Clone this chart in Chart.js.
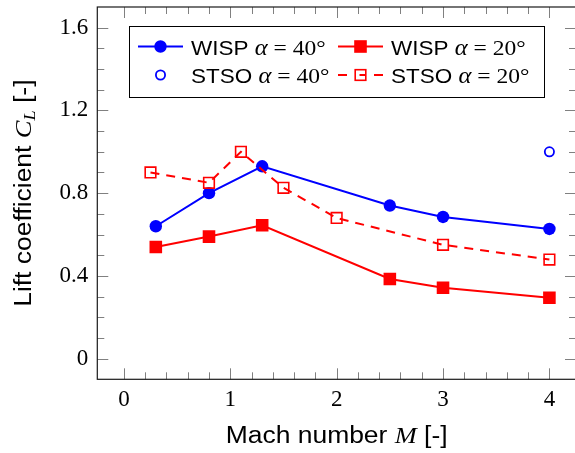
<!DOCTYPE html>
<html lang="en">
<head>
    <meta charset="UTF-8">
    <title>Lift coefficient vs Mach number</title>
    <script src="https://cdn.jsdelivr.net/npm/chart.js"></script>
    <style>
        html, body { margin: 0; padding: 0; background: #fff; overflow: hidden; }
        #wrap { width: 578px; height: 453px; }
    </style>
</head>
<body>
    <div id="wrap">
        <canvas id="liftChart" width="578" height="453"></canvas>
    </div>
    <script>
        // Data
        const machWisp = [0.3, 0.8, 1.3, 2.5, 3.0, 4.0];
        const clWisp40 = [0.64, 0.80, 0.93, 0.74, 0.685, 0.627];
        const clWisp20 = [0.54, 0.59, 0.645, 0.385, 0.343, 0.294];
        const machStso40 = [4.0];
        const clStso40 = [1.0];
        const machStso20 = [0.25, 0.8, 1.1, 1.5, 2.0, 3.0, 4.0];
        const clStso20 = [0.90, 0.85, 1.0, 0.826, 0.68, 0.55, 0.479];

        const xTicks = [0, 1, 2, 3, 4];
        const yTicks = [0, 0.4, 0.8, 1.2, 1.6];
        const seriesNames = ['WISP', 'WISP', 'STSO', 'STSO'];
        const seriesAlpha = ['40', '20', '40', '20'];

        const BLUE = '#0000ff';
        const RED = '#ff0000';
        const SANS = "'Liberation Sans'";
        const SERIF = "'Liberation Serif'";
        const HS = 1.15; // horizontal stretch for axis titles

        function pts(xs, ys) {
            return xs.map((v, i) => ({ x: v, y: ys[i] }));
        }

        // draw a run of text pieces with different fonts
        function drawRich(ctx, parts, x, y, align, hs) {
            hs = hs || 1;
            ctx.save();
            let w = 0;
            parts.forEach(p => {
                ctx.font = p.f;
                w += ctx.measureText(p.t).width * hs;
            });
            const cx = align === 'center' ? x - w / 2 : x;
            ctx.translate(cx, y);
            ctx.scale(hs, 1);
            let px = 0;
            parts.forEach(p => {
                ctx.font = p.f;
                ctx.fillText(p.t, px, p.dy || 0);
                px += ctx.measureText(p.t).width;
            });
            ctx.restore();
        }

        function mathLabel(name, alpha) {
            return [
                { t: name + ' ', f: `21px ${SANS}` },
                { t: 'α', f: `italic 23px ${SERIF}` },
                { t: ' = ' + alpha + '°', f: `22px ${SERIF}` }
            ];
        }

        // frame, inward ticks and axis titles like pgfplots
        const framePlugin = {
            id: 'frame',
            beforeDatasetsDraw(chart) {
                const { ctx, chartArea: a, scales } = chart;
                const sx = scales.x, sy = scales.y;
                ctx.save();
                ctx.strokeStyle = '#808080';
                ctx.lineWidth = 1;
                ctx.beginPath();
                for (let k = 0; k <= 20; k++) {
                    const len = k % 5 === 0 ? 11 : 7;
                    const px = Math.round(sx.getPixelForValue(k * 0.2)) + 0.5;
                    ctx.moveTo(px, a.bottom); ctx.lineTo(px, a.bottom - len);
                    ctx.moveTo(px, a.top); ctx.lineTo(px, a.top + len);
                }
                for (let k = 0; k <= 16; k++) {
                    const len = k % 4 === 0 ? 11 : 7;
                    const py = Math.round(sy.getPixelForValue(k * 0.1)) + 0.5;
                    ctx.moveTo(a.left, py); ctx.lineTo(a.left + len, py);
                    ctx.moveTo(a.right, py); ctx.lineTo(a.right - len, py);
                }
                ctx.stroke();
                ctx.strokeStyle = '#1a1a1a';
                ctx.lineWidth = 1.2;
                ctx.strokeRect(a.left, a.top, a.right - a.left, a.bottom - a.top);

                ctx.fillStyle = '#000';
                ctx.textBaseline = 'alphabetic';
                const cx = (a.left + a.right) / 2;
                drawRich(ctx, [
                    { t: 'Mach number ', f: `23px ${SANS}` },
                    { t: 'M', f: `italic 23px ${SERIF}` },
                    { t: ' [-]', f: `23px ${SANS}` }
                ], cx, 443, 'center', HS);

                ctx.save();
                ctx.translate(31, (a.top + a.bottom) / 2);
                ctx.rotate(-Math.PI / 2);
                drawRich(ctx, [
                    { t: 'Lift coefficient ', f: `23px ${SANS}` },
                    { t: 'C', f: `italic 23px ${SERIF}` },
                    { t: 'L', f: `italic 16px ${SERIF}`, dy: 4 },
                    { t: ' [-]', f: `23px ${SANS}` }
                ], 0, 0, 'center', HS);
                ctx.restore();
                ctx.restore();
            }
        };

        // 2x2 legend box
        const legendPlugin = {
            id: 'boxLegend',
            afterDraw(chart) {
                const ctx = chart.ctx;
                const box = { l: 129.5, t: 26.5, r: 544.5, b: 97.5 };
                ctx.save();
                ctx.fillStyle = '#fff';
                ctx.fillRect(box.l, box.t, box.r - box.l, box.b - box.t);
                ctx.strokeStyle = '#000';
                ctx.lineWidth = 1;
                ctx.strokeRect(box.l, box.t, box.r - box.l, box.b - box.t);

                const rows = [46.5, 75];
                const cols = [138, 338];
                const items = [
                    { c: BLUE, line: true, dash: false, mark: 'circle', fill: true },
                    { c: RED, line: true, dash: false, mark: 'rect', fill: true },
                    { c: BLUE, line: false, dash: false, mark: 'circle', fill: false },
                    { c: RED, line: true, dash: true, mark: 'rect', fill: false }
                ];
                items.forEach((it, i) => {
                    const x0 = cols[i % 2], y0 = rows[Math.floor(i / 2)];
                    const mx = x0 + 22.5;
                    ctx.strokeStyle = it.c;
                    ctx.fillStyle = it.c;
                    if (it.line) {
                        ctx.lineWidth = 2;
                        ctx.beginPath();
                        if (it.dash) {
                            ctx.moveTo(x0, y0); ctx.lineTo(x0 + 9, y0);
                            ctx.moveTo(x0 + 36, y0); ctx.lineTo(x0 + 45, y0);
                        } else {
                            ctx.moveTo(x0, y0); ctx.lineTo(x0 + 45, y0);
                        }
                        ctx.stroke();
                    }
                    ctx.beginPath();
                    if (it.mark === 'circle') {
                        if (it.fill) {
                            ctx.arc(mx, y0, 6.2, 0, Math.PI * 2);
                            ctx.fill();
                        } else {
                            ctx.lineWidth = 1.8;
                            ctx.arc(mx, y0, 4.6, 0, Math.PI * 2);
                            ctx.stroke();
                        }
                    } else {
                        if (it.fill) {
                            ctx.fillRect(mx - 6.3, y0 - 6.3, 12.6, 12.6);
                        } else {
                            ctx.lineWidth = 1.6;
                            ctx.strokeRect(mx - 5.3, y0 - 5.3, 10.6, 10.6);
                            ctx.lineWidth = 2;
                            ctx.beginPath();
                            ctx.moveTo(mx - 1, y0); ctx.lineTo(mx + 5.3, y0);
                            ctx.stroke();
                        }
                    }
                    ctx.fillStyle = '#000';
                    drawRich(ctx, mathLabel(seriesNames[i], seriesAlpha[i]), x0 + 53, y0 + 8, 'left', 1.07);
                });
                ctx.restore();
            }
        };

        const ctx = document.getElementById('liftChart').getContext('2d');
        new Chart(ctx, {
            type: 'scatter',
            data: {
                datasets: [
                    {
                        label: 'WISP a=40',
                        data: pts(machWisp, clWisp40),
                        showLine: true,
                        borderColor: BLUE,
                        backgroundColor: BLUE,
                        borderWidth: 2,
                        pointStyle: 'circle',
                        pointRadius: 6.2,
                        pointBorderWidth: 0,
                        order: 4
                    },
                    {
                        label: 'WISP a=20',
                        data: pts(machWisp, clWisp20),
                        showLine: true,
                        borderColor: RED,
                        backgroundColor: RED,
                        borderWidth: 2,
                        pointStyle: 'rect',
                        pointRadius: 8.9,
                        pointBorderWidth: 0,
                        order: 3
                    },
                    {
                        label: 'STSO a=40',
                        data: pts(machStso40, clStso40),
                        showLine: false,
                        borderColor: BLUE,
                        backgroundColor: 'rgba(0,0,0,0)',
                        pointStyle: 'circle',
                        pointRadius: 4.6,
                        pointBorderWidth: 1.8,
                        order: 2
                    },
                    {
                        label: 'STSO a=20',
                        data: pts(machStso20, clStso20),
                        showLine: true,
                        borderColor: RED,
                        backgroundColor: 'rgba(0,0,0,0)',
                        borderWidth: 2,
                        borderDash: [9, 7],
                        pointStyle: 'rect',
                        pointRadius: 7.5,
                        pointBorderWidth: 1.6,
                        order: 1
                    }
                ]
            },
            options: {
                responsive: false,
                animation: false,
                layout: { autoPadding: false, padding: { left: 0, right: 2, top: 7, bottom: 0 } },
                plugins: {
                    legend: { display: false },
                    tooltip: { enabled: false }
                },
                scales: {
                    x: {
                        type: 'linear',
                        min: -0.25,
                        max: 4.25,
                        afterBuildTicks: s => { s.ticks = xTicks.map(v => ({ value: v })); },
                        afterFit: s => { s.height = 73.7; s.paddingLeft = 0; s.paddingRight = 0; },
                        grid: { display: false, drawTicks: false },
                        border: { display: false },
                        ticks: {
                            color: '#000',
                            padding: 7,
                            maxRotation: 0,
                            autoSkip: false,
                            font: { family: 'Liberation Serif', size: 23 },
                            callback: v => String(v)
                        }
                    },
                    y: {
                        type: 'linear',
                        min: -0.1,
                        max: 1.7,
                        afterBuildTicks: s => { s.ticks = yTicks.map(v => ({ value: v })); },
                        afterFit: s => { s.width = 97.3; s.paddingTop = 0; s.paddingBottom = 0; },
                        grid: { display: false, drawTicks: false },
                        border: { display: false },
                        ticks: {
                            color: '#000',
                            padding: 9,
                            autoSkip: false,
                            font: { family: 'Liberation Serif', size: 23 },
                            callback: v => v === 0 ? '0' : v.toFixed(1)
                        }
                    }
                }
            },
            plugins: [framePlugin, legendPlugin]
        });
    </script>
</body>
</html>
